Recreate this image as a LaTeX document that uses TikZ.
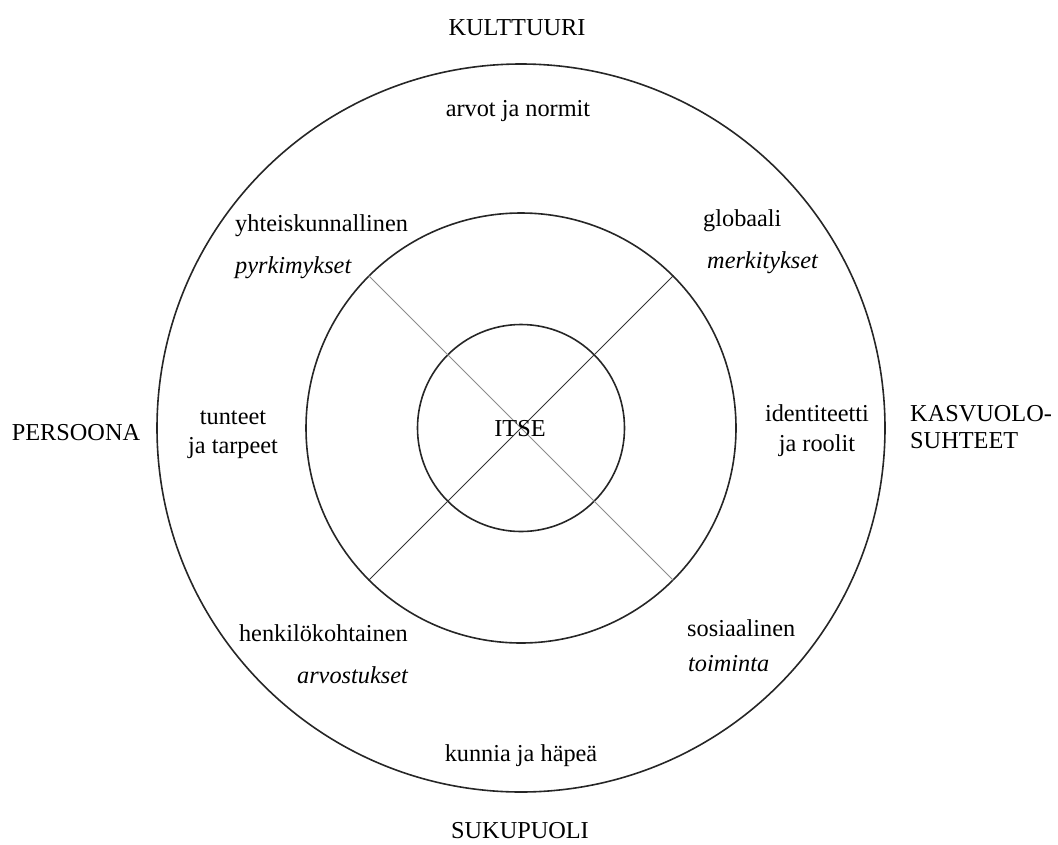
\documentclass[tikz,border=0pt]{standalone}
\usepackage{fontspec}
\setmainfont{Liberation Serif}
\begin{document}
\begin{tikzpicture}[x=1pt,y=-1pt,
  ring/.style={circle,draw=black!85,line width=1.6pt,inner sep=0pt},
  lbl/.style={inner sep=0pt,font=\fontsize{24.3}{27}\selectfont},
  ilbl/.style={inner sep=0pt,font=\fontsize{24.3}{27}\selectfont\itshape},
  spoke/.style={line width=1pt,draw=black!80},
  faint/.style={line width=0.9pt,draw=black!45}]
\useasboundingbox (0,0) rectangle (1058,844);
% circles
\node[ring,minimum size=728pt] (outer) at (521,428) {};
\node[ring,minimum size=430pt] (mid) at (521,428) {};
\node[ring,minimum size=207pt] (inner) at (521,428) {};
% spokes
\draw[faint] (mid.135) -- (mid.-45);
\draw[spoke] (mid.-135) -- (mid.45);
% centre
\node[lbl,anchor=base] (itse) at (520,436) {ITSE};
% outside labels
\node[lbl,anchor=base] (kult) at (517,35) {KULTTUURI};
\node[lbl,anchor=base] (suku) at (520,838) {SUKUPUOLI};
\node[lbl,anchor=base] (pers) at (76,440) {PERSOONA};
\node[lbl,anchor=base west] (kasv1) at (910,421) {KASVUOLO-};
\node[lbl,anchor=base west] (kasv2) at (910,448) {SUHTEET};
% outer ring labels
\node[lbl,anchor=base] (arvot) at (518,116) {arvot ja normit};
\node[lbl,anchor=base] (kunnia) at (521,761) {kunnia ja häpeä};
\node[lbl,anchor=base] (tunt1) at (233,424) {tunteet};
\node[lbl,anchor=base] (tunt2) at (233,453) {ja tarpeet};
\node[lbl,anchor=base] (iden1) at (817,421) {identiteetti};
\node[lbl,anchor=base] (iden2) at (817,451) {ja roolit};
\node[lbl,anchor=base west] (yht1) at (235,231) {yhteiskunnallinen};
\node[ilbl,anchor=base west] (yht2) at (235,273) {pyrkimykset};
\node[lbl,anchor=base west] (glob1) at (703,226) {globaali};
\node[ilbl,anchor=base west] (glob2) at (707,268) {merkitykset};
\node[lbl,anchor=base east] (henk1) at (408,641) {henkilökohtainen};
\node[ilbl,anchor=base east] (henk2) at (408,683) {arvostukset};
\node[lbl,anchor=base west] (sos1) at (687,636) {sosiaalinen};
\node[ilbl,anchor=base west] (sos2) at (688,671) {toiminta};
\end{tikzpicture}
\end{document}
